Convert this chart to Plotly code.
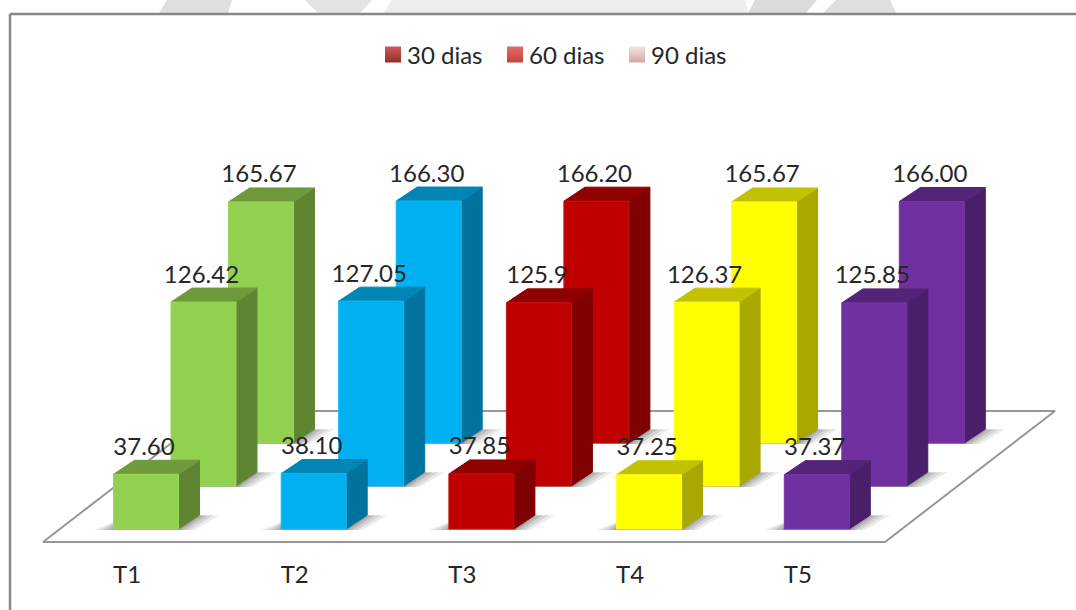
import plotly.graph_objects as go

categories = ["T1", "T2", "T3", "T4", "T5"]
series_names = ["30 dias", "60 dias", "90 dias"]
dias_30 = [37.60, 38.10, 37.85, 37.25, 37.37]
dias_60 = [126.42, 127.05, 125.90, 126.37, 125.85]
dias_90 = [165.67, 166.30, 166.20, 165.67, 166.00]
labels_30 = ["37.60", "38.10", "37.85", "37.25", "37.37"]
labels_60 = ["126.42", "127.05", "125.9", "126.37", "125.85"]
labels_90 = ["165.67", "166.30", "166.20", "165.67", "166.00"]

front_colors = ["#92D050", "#00B0F0", "#C00000", "#FFFF00", "#7030A0"]
edge_colors = ["#9BD65C", "#12B8F4", "#C81010", "#FFFF20", "#7836A8"]
top_colors = ["#6F9A3C", "#0085B5", "#900000", "#C2C200", "#542478"]
side_colors = ["#5F8532", "#00749E", "#7E0000", "#A8A800", "#4A1F69"]
legend_colors = ["#8F2F2D", "#BE4441", "#D5A6A5"]
legend_light = ["#D05A58", "#E86A66", "#F5E2E2"]

W, H = 1076, 610
PLOT_BOTTOM = 555
PX_CAT = 167.7          # pixels per category
PX_VAL = 1.455          # pixels per value unit
X0_PX, Y0_PX = 146, 529 # pixel of T1 / value 0 at the nearest row

def cx(px):
    return px / PX_CAT

def cy(px):
    return px / PX_VAL

BAR_W = cx(65)
ROW_DX, ROW_DY = cx(57.5), cy(43)
SIDE_DX, SIDE_DY = cx(21), cy(14)

fig = go.Figure()

def poly(xs, ys, fill, line=None, width=1):
    fig.add_trace(go.Scatter(
        x=xs + xs[:1], y=ys + ys[:1], mode="lines", fill="toself", fillcolor=fill,
        line=dict(color=line or fill, width=width), hoverinfo="skip", showlegend=False))

# floor
fl, fr = cx(43 - X0_PX), cx(885 - X0_PX)
fb = cy(Y0_PX - 542)
bl, br = cx(213 - X0_PX), cx(1055 - X0_PX)
bt = cy(Y0_PX - 411)
poly([fl, fr, br, bl], [fb, fb, bt, bt], "#FFFFFF", "#979797", 2)

rows = [dias_30, dias_60, dias_90]
for d in (2, 1, 0):
    for i in range(len(categories)):
        v = rows[d][i]
        x1 = i + d * ROW_DX - BAR_W / 2
        x2 = x1 + BAR_W
        y0 = d * ROW_DY
        y1 = y0 + v
        # soft cast shadow on the floor
        for grow, alpha in ((20, 0.10), (14, 0.13), (8, 0.16), (3, 0.20)):
            g = cx(grow)
            poly([x1 - g, x1 + cx(8), x2 + SIDE_DX + g, x2 + g * 0.8],
                 [y0 - cy(1), y0 + cy(10), y0 + SIDE_DY, y0 - cy(1)],
                 f"rgba(60,60,60,{alpha})", "rgba(0,0,0,0)", 0)
        # side, top, front faces
        poly([x2, x2 + SIDE_DX, x2 + SIDE_DX, x2],
             [y0, y0 + SIDE_DY, y1 + SIDE_DY, y1], side_colors[i])
        poly([x1, x2, x2 + SIDE_DX, x1 + SIDE_DX],
             [y1, y1, y1 + SIDE_DY, y1 + SIDE_DY], top_colors[i])
        poly([x1, x2, x2, x1], [y0, y0, y1, y1], front_colors[i], edge_colors[i])

# value labels
LABEL_DX = cx(-2)
LABEL_DY = cy(25.5)
for d, texts in enumerate((labels_30, labels_60, labels_90)):
    fig.add_trace(go.Scatter(
        x=[i + d * ROW_DX + LABEL_DX for i in range(len(categories))],
        y=[rows[d][i] + d * ROW_DY + LABEL_DY for i in range(len(categories))],
        mode="text", text=texts, textposition="middle center",
        textfont=dict(family="Lato", size=24, color="#262626"),
        hoverinfo="skip", showlegend=False))

# legend entries
for name, c, lc in zip(series_names, legend_colors, legend_light):
    fig.add_trace(go.Scatter(
        x=[None], y=[None], mode="markers", name=name,
        marker=dict(symbol="square", size=16, color=lc,
                    gradient=dict(type="vertical", color=c),
                    line=dict(width=0))))

def py(px):
    return 1 - px / PLOT_BOTTOM

def pxx(px):
    return px / W

# frame (top and left only)
frame = [
    dict(type="line", xref="paper", yref="paper", x0=pxx(10), x1=1, y0=py(14), y1=py(14),
         line=dict(color="#888888", width=2.5)),
    dict(type="line", xref="paper", yref="paper", x0=pxx(10), x1=pxx(10), y0=py(14), y1=py(H),
         line=dict(color="#888888", width=2.5)),
]

# faint page watermark showing above the frame
watermark = [
    (159, 228, 167, 232, "#DDE0DB"),
    (318, 360, 305, 372, "#E2E5DF"),
    (384, 748, 392, 745, "#ECEEE9"),
    (748, 806, 755, 817, "#D9DDD7"),
    (823, 896, 836, 890, "#DDE0DB"),
]
wm_shapes = [
    dict(type="path", xref="paper", yref="paper", layer="below", line=dict(width=0), fillcolor=c,
         path=f"M {pxx(a)} {py(13)} L {pxx(b)} {py(13)} L {pxx(d)} {py(0)} L {pxx(e)} {py(0)} Z")
    for a, b, e, d, c in watermark
]

fig.update_layout(
    width=W, height=H,
    margin=dict(l=0, r=0, t=0, b=H - PLOT_BOTTOM, autoexpand=False),
    paper_bgcolor="#FFFFFF", plot_bgcolor="rgba(0,0,0,0)",
    font=dict(family="Lato", color="#262626"),
    shapes=wm_shapes + frame,
    legend=dict(orientation="h", x=pxx(367), xanchor="left",
                y=py(55), yanchor="middle", entrywidth=77, entrywidthmode="pixels",
                font=dict(family="Lato", size=24, color="#262626"),
                itemwidth=30, bgcolor="rgba(0,0,0,0)", itemclick=False, itemdoubleclick=False),
    xaxis=dict(range=[cx(-X0_PX), cx(W - X0_PX)], showgrid=False, zeroline=False, showline=False,
               tickmode="array", tickvals=[i + cx(-19) for i in range(len(categories))],
               ticktext=categories, ticks="", ticklabelstandoff=3,
               tickfont=dict(family="Lato", size=24, color="#262626"),
               fixedrange=True, automargin=False),
    yaxis=dict(range=[cy(Y0_PX - PLOT_BOTTOM), cy(Y0_PX)], visible=False, fixedrange=True,
               automargin=False),
)

post = """
document.body.style.margin = '0';
document.body.style.overflow = 'hidden';
document.querySelectorAll('.legendpoints').forEach(function (g) {
    g.setAttribute('transform', 'translate(6,0)');
});
"""
fig.write_html("out.html", config={"displayModeBar": False}, post_script=post)
